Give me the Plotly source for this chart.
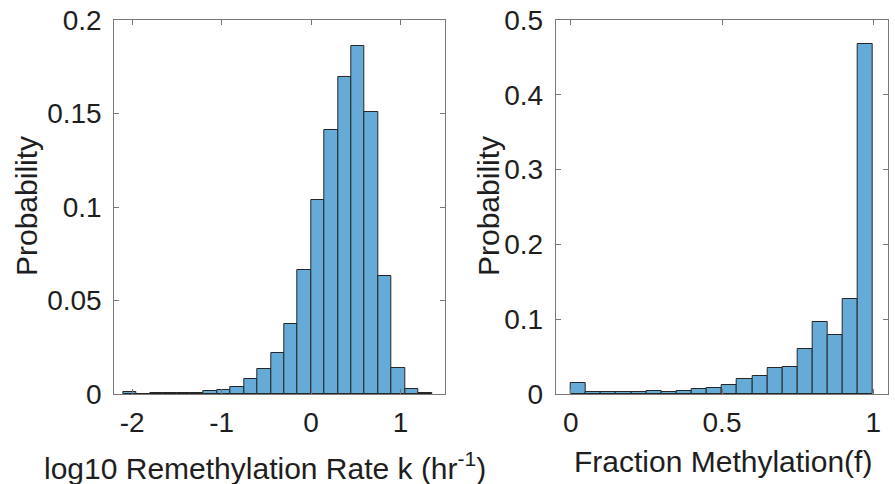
import plotly.graph_objects as go

# Left histogram: log10 remethylation rate k
k_edges = [-2.1, -1.95, -1.8, -1.65, -1.5, -1.35, -1.2, -1.05, -0.9, -0.75, -0.6, -0.45,
           -0.3, -0.15, 0.0, 0.15, 0.3, 0.45, 0.6, 0.75, 0.9, 1.05, 1.2, 1.35]
k_prob = [0.0009, 0.0002, 0.0004, 0.0004, 0.0007, 0.0007, 0.0014, 0.0021, 0.0039, 0.0078,
          0.0132, 0.0217, 0.0373, 0.0661, 0.1037, 0.1410, 0.1693, 0.1859, 0.1508, 0.0633,
          0.0137, 0.0025, 0.0004]

# Right histogram: fraction methylation f
f_edges = [0.0, 0.05, 0.1, 0.15, 0.2, 0.25, 0.3, 0.35, 0.4, 0.45, 0.5, 0.55, 0.6, 0.65,
           0.7, 0.75, 0.8, 0.85, 0.9, 0.95, 1.0]
f_prob = [0.0152, 0.0022, 0.0031, 0.0022, 0.0031, 0.0040, 0.0031, 0.0045, 0.0062, 0.0085,
          0.0116, 0.0200, 0.0236, 0.0352, 0.0357, 0.0606, 0.0958, 0.0784, 0.1266, 0.4675]

k_ticks = [-2, -1, 0, 1]
k_ticktext = ["-2", "-1", "0", "1"]
k_yticks = [0, 0.05, 0.1, 0.15, 0.2]
k_yticktext = ["0", "0.05", "0.1", "0.15", "0.2"]
f_ticks = [0, 0.5, 1]
f_ticktext = ["0", "0.5", "1"]
f_yticks = [0, 0.1, 0.2, 0.3, 0.4, 0.5]
f_yticktext = ["0", "0.1", "0.2", "0.3", "0.4", "0.5"]

BAR = "rgb(102,170,215)"
EDGE = "rgb(38,38,38)"
AX = "rgb(120,120,120)"
TXT = "rgb(30,30,30)"
FONT = "Liberation Sans, Arial, Helvetica, sans-serif"


def centers(edges):
    return [(a + b) / 2 for a, b in zip(edges[:-1], edges[1:])]


def widths(edges):
    return [b - a for a, b in zip(edges[:-1], edges[1:])]


fig = go.Figure()
fig.add_trace(go.Bar(x=centers(k_edges), y=k_prob, width=widths(k_edges),
                     marker=dict(color=BAR, line=dict(color=EDGE, width=1)),
                     xaxis="x", yaxis="y", showlegend=False))
fig.add_trace(go.Bar(x=centers(f_edges), y=f_prob, width=widths(f_edges),
                     marker=dict(color=BAR, line=dict(color=EDGE, width=1)),
                     xaxis="x2", yaxis="y2", showlegend=False))

W, H = 895, 484
y_dom = [1 - 394 / H, 1 - 20 / H]

common = dict(showline=True, linecolor=AX, linewidth=1, mirror="ticks", ticks="inside",
              ticklen=5, tickcolor=AX, tickwidth=1, showgrid=False, zeroline=False,
              automargin=False,
              tickfont=dict(family=FONT, size=28, color=TXT), tickmode="array")

fig.update_layout(
    width=W, height=H, margin=dict(l=0, r=0, t=0, b=0, autoexpand=False),
    paper_bgcolor="white", plot_bgcolor="white", bargap=0,
    xaxis=dict(domain=[114.3 / W, 445.3 / W], range=[-2.2, 1.5], anchor="y",
               tickvals=k_ticks, ticktext=k_ticktext, ticklabelstandoff=3, **common),
    yaxis=dict(domain=y_dom, range=[0, 0.2], anchor="x",
               tickvals=k_yticks, ticktext=k_yticktext, ticklabelstandoff=6, **common),
    xaxis2=dict(domain=[555.7 / W, 888.3 / W], range=[-0.05, 1.05], anchor="y2",
                tickvals=f_ticks, ticktext=f_ticktext, ticklabelstandoff=3, **common),
    yaxis2=dict(domain=y_dom, range=[0, 0.5], anchor="x2",
                tickvals=f_yticks, ticktext=f_yticktext, ticklabelstandoff=6, **common),
)

tfont = dict(family=FONT, size=30, color=TXT)
fig.add_annotation(text="log10 Remethylation Rate k (hr<sup>-1</sup>)", xref="paper", yref="paper",
                   x=265 / W, y=1 - 466 / H, xanchor="center", yanchor="middle",
                   showarrow=False, font=tfont)
fig.add_annotation(text="Fraction Methylation(f)", xref="paper", yref="paper",
                   x=723 / W, y=1 - 461 / H, xanchor="center", yanchor="middle",
                   showarrow=False, font=tfont)
fig.add_annotation(text="Probability", xref="paper", yref="paper",
                   x=26 / W, y=1 - 206 / H, xanchor="center", yanchor="middle", textangle=-90,
                   showarrow=False, font=tfont)
fig.add_annotation(text="Probability", xref="paper", yref="paper",
                   x=488 / W, y=1 - 206 / H, xanchor="center", yanchor="middle", textangle=-90,
                   showarrow=False, font=tfont)

fig.write_html("out.html")
